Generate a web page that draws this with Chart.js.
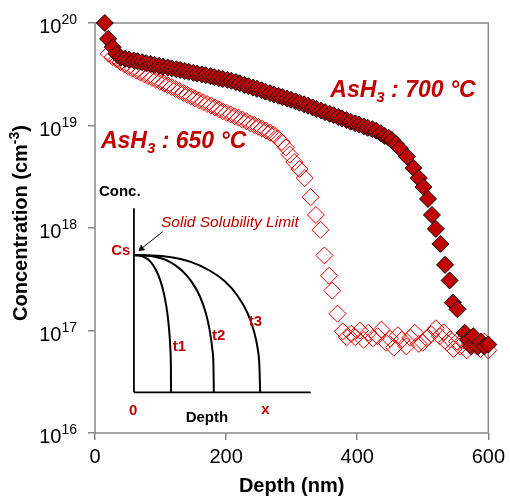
<!DOCTYPE html>
<html><head><meta charset="utf-8">
<script src="https://cdn.jsdelivr.net/npm/chart.js@4.4.1/dist/chart.umd.min.js"></script>
<style>html,body{margin:0;padding:0;background:#fff;}#wrap{width:510px;height:496px;}</style>
</head><body><div id="wrap"><canvas id="c" width="510" height="496"></canvas></div>
<script>
// ---- data (depth nm, concentration cm^-3) ----
const depth700 = [15,20,27,33,39,46,52,59,65,72,78,85,91,98,104,111,117,124,130,137,143,150,156,163,169,176,182,189,195,202,208,215,221,228,234,241,247,254,260,267,273,280,286,293,299,306,312,319,325,332,338,345,351,358,364,371,377,384,390,397,403,410,416,423,429,436,442,448,453,459,465,476,486,494,501,508,514,520,527,534,541,546,553,564,569,574,577,584,589,594,600];
const conc700 = [1.0e20,7.0e19,5.8e19,5.0e19,4.6e19,4.49e19,4.40e19,4.31e19,4.23e19,4.14e19,4.06e19,3.98e19,3.90e19,3.83e19,3.76e19,3.68e19,3.61e19,3.54e19,3.48e19,3.40e19,3.34e19,3.27e19,3.21e19,3.15e19,3.09e19,3.03e19,2.96e19,2.90e19,2.84e19,2.79e19,2.73e19,2.65e19,2.58e19,2.49e19,2.42e19,2.34e19,2.28e19,2.21e19,2.14e19,2.07e19,2.01e19,1.95e19,1.89e19,1.83e19,1.78e19,1.72e19,1.67e19,1.61e19,1.56e19,1.50e19,1.45e19,1.40e19,1.35e19,1.30e19,1.26e19,1.21e19,1.17e19,1.13e19,1.09e19,1.05e19,1.02e19,9.8e18,9.5e18,9.2e18,8.9e18,8.4e18,7.9e18,7.6e18,7.2e18,6.6e18,6.0e18,4.96e18,3.85e18,3.07e18,2.51e18,1.92e18,1.34e18,9.8e17,7.0e17,4.37e17,3.08e17,1.87e17,1.61e17,9.5e16,8.1e16,7.0e16,8.8e16,7.0e16,7.8e16,7.0e16,7.3e16];
const depth650 = [21,27,33,39,45,51,57,63,69,75,81,87,93,99,105,111,117,123,129,135,141,147,153,159,165,171,177,183,189,195,201,207,213,219,225,231,237,243,249,255,261,267,273,279,285,291,297,304,312,320,329,337,344,350,357,362,370,378,384,391,397,404,410,417,424,431,437,444,450,456,462,468,475,481,488,494,500,506,513,520,526,532,537,542,547,552,557,562,567,572,577,582,588,594,600];
const conc650 = [5.0e19,4.66e19,4.41e19,4.16e19,3.94e19,3.74e19,3.59e19,3.44e19,3.30e19,3.16e19,3.03e19,2.91e19,2.79e19,2.68e19,2.57e19,2.47e19,2.37e19,2.27e19,2.17e19,2.08e19,1.99e19,1.91e19,1.83e19,1.76e19,1.69e19,1.62e19,1.56e19,1.50e19,1.44e19,1.38e19,1.33e19,1.28e19,1.23e19,1.19e19,1.14e19,1.10e19,1.05e19,1.01e19,9.7e18,9.3e18,8.9e18,8.5e18,8.1e18,7.5e18,6.9e18,6.1e18,5.2e18,4.4e18,3.76e18,3.07e18,2.0e18,1.34e18,9.6e17,5.4e17,3.42e17,2.45e17,1.46e17,9.8e16,8.6e16,9.3e16,8.6e16,1.0e17,8.1e16,9.5e16,8.4e16,8.8e16,1.02e17,7.6e16,8.3e16,6.8e16,9.0e16,8.1e16,7.0e16,8.5e16,9.5e16,7.4e16,7.6e16,8.4e16,9.2e16,1.05e17,8.8e16,9.6e16,7.6e16,8.2e16,6.6e16,7.8e16,7.0e16,8.0e16,6.4e16,7.4e16,8.2e16,7.0e16,6.6e16,7.8e16,6.4e16];
const xTickValues = [0,200,400,600];
const yTickExponents = [16,17,18,19,20];
const label700Pos = [359, 1.88e19];
const label650Pos = [9, 6.0e18];

// ---- inset schematic (inset units: 0..100 on both axes) ----
const insetCurveV = [74.6,73.8,70.9,66.2,60.3,52.6,43.0,33.5,23.7,14.0,0];
const insetT1U = [0,5.25,9.45,12.6,15.1,17.2,18.9,19.95,20.6,20.9,21];
const insetT2U = [0,11.3,20.3,27.1,32.5,37.1,40.7,42.9,44.3,45.0,45.2];
const insetT3U = [0,17.9,32.1,42.8,51.4,58.5,64.3,67.8,70.0,71.0,71.4];
const insetAxisV = [[0,0],[0,100]];
const insetAxisH = [[0,0],[100,0]];
const insetArrow = [[16.3,87.3],[3.8,77.8]];
const insetArrowHead = [4.3,78.1];

const F = "'Liberation Sans', Arial, Helvetica, sans-serif";
const RED = '#c00000';
const GRAY = '#888888';
Chart.defaults.font.family = F;

const pts = (xs, ys) => xs.map((x,i)=>({x:x, y:ys[i]}));
const ptsPairs = arr => arr.map(p=>({x:p[0], y:p[1]}));

function lineDs(data, width, extra){
  return Object.assign({data, xAxisID:'xi', yAxisID:'yi', showLine:true, pointRadius:0, borderColor:'#000', borderWidth:width, backgroundColor:'#000', fill:false, order:3, clip:false}, extra||{});
}

function drawRuns(ctx, x, y, runs, align, color){
  ctx.fillStyle = color;
  ctx.textBaseline = 'alphabetic';
  ctx.textAlign = 'left';
  let w = 0;
  runs.forEach(r=>{ctx.font=r.font; r.w=ctx.measureText(r.t).width; w+=r.w;});
  let cx = align==='center' ? x-w/2 : (align==='right' ? x-w : x);
  runs.forEach(r=>{ctx.font=r.font; ctx.fillText(r.t, cx, y+(r.dy||0)); cx+=r.w;});
}

const framePlugin = {
  id:'frame',
  beforeDatasetsDraw(chart){
    const ctx=chart.ctx, ca=chart.chartArea;
    ctx.save(); ctx.strokeStyle=GRAY; ctx.lineWidth=1.5;
    ctx.strokeRect(ca.left, ca.top, ca.right-ca.left, ca.bottom-ca.top);
    ctx.restore();
  }
};

const textPlugin = {
  id:'texts',
  afterDraw(chart){
    const ctx=chart.ctx, ca=chart.chartArea;
    const xs=chart.scales.x, ys=chart.scales.y, xi=chart.scales.xi, yi=chart.scales.yi;
    ctx.save();
    // y tick labels 10^n
    yTickExponents.forEach(e=>{
      const py = ys.getPixelForValue(Math.pow(10,e));
      drawRuns(ctx, 77, py+10, [{t:'10', font:'20px '+F},{t:String(e), font:'14px '+F, dy:-9}], 'right', '#000');
    });
    // axis titles
    drawRuns(ctx, (ca.left+ca.right)/2, 491.5, [{t:'Depth (nm)', font:'bold 20px '+F}], 'center', '#000');
    ctx.save();
    ctx.translate(20, (ca.top+ca.bottom)/2 - 5);
    ctx.rotate(-Math.PI/2);
    drawRuns(ctx, 0, 7, [{t:'Concentration (cm', font:'bold 20px '+F},{t:'-3', font:'bold 14px '+F, dy:-8},{t:')', font:'bold 20px '+F}], 'center', '#000');
    ctx.restore();
    // series labels
    const bi = 'italic bold ';
    drawRuns(ctx, xs.getPixelForValue(label700Pos[0]), ys.getPixelForValue(label700Pos[1]),
      [{t:'AsH', font:bi+'23px '+F},{t:'3', font:bi+'15px '+F, dy:5},{t:' : 700 °C', font:bi+'23px '+F}], 'left', RED);
    drawRuns(ctx, xs.getPixelForValue(label650Pos[0]), ys.getPixelForValue(label650Pos[1]),
      [{t:'AsH', font:bi+'23px '+F},{t:'3', font:bi+'15px '+F, dy:5},{t:' : 650 °C', font:bi+'23px '+F}], 'left', RED);
    // inset texts
    const P = (u,v)=>[xi.getPixelForValue(u), yi.getPixelForValue(v)];
    const b15 = 'bold 15px '+F;
    let p;
    p=P(-8,106.7); drawRuns(ctx,p[0],p[1],[{t:'Conc.',font:b15}],'center','#000');
    p=P(54.3,89.7); drawRuns(ctx,p[0],p[1],[{t:'Solid Solubility Limit',font:'italic 15.5px '+F}],'center',RED);
    p=P(-2,74.6); drawRuns(ctx,p[0],p[1],[{t:'Cs',font:b15}],'right',RED);
    p=P(25.8,22.6); drawRuns(ctx,p[0],p[1],[{t:'t1',font:b15}],'center',RED);
    p=P(48.0,28.4); drawRuns(ctx,p[0],p[1],[{t:'t2',font:b15}],'center',RED);
    p=P(68.8,36.0); drawRuns(ctx,p[0],p[1],[{t:'t3',font:b15}],'center',RED);
    p=P(-0.45,-12.3); drawRuns(ctx,p[0],p[1],[{t:'0',font:b15}],'center',RED);
    p=P(74.4,-11.8); drawRuns(ctx,p[0],p[1],[{t:'x',font:b15}],'center',RED);
    p=P(41.3,-16.3); drawRuns(ctx,p[0],p[1],[{t:'Depth',font:b15}],'center','#000');
    ctx.restore();
  }
};

const gridOpts = {display:true, drawOnChartArea:false, drawTicks:true, tickLength:7, color:GRAY, lineWidth:1.5};

new Chart(document.getElementById('c'), {
  type:'scatter',
  data:{datasets:[
    {label:'AsH3 : 700 °C', data:pts(depth700,conc700), xAxisID:'x', yAxisID:'y', order:0,
      pointStyle:'rectRot', pointRadius:8.5, pointBackgroundColor:RED, pointBorderColor:'#000', pointBorderWidth:1, showLine:false, clip:false},
    {label:'AsH3 : 650 °C', data:pts(depth650,conc650), xAxisID:'x', yAxisID:'y', order:1,
      pointStyle:'rectRot', pointRadius:8.5, pointBackgroundColor:'rgba(255,255,255,0)', pointBorderColor:'#dd0000', pointBorderWidth:1, showLine:false, clip:false},
    lineDs(ptsPairs(insetAxisV), 1.75),
    lineDs(ptsPairs(insetAxisH), 1.75),
    lineDs(pts(insetT1U, insetCurveV), 2, {cubicInterpolationMode:'monotone'}),
    lineDs(pts(insetT2U, insetCurveV), 2, {cubicInterpolationMode:'monotone'}),
    lineDs(pts(insetT3U, insetCurveV), 2, {cubicInterpolationMode:'monotone'}),
    lineDs(ptsPairs(insetArrow), 1),
    {data:[{x:insetArrowHead[0], y:insetArrowHead[1]}], xAxisID:'xi', yAxisID:'yi', showLine:false, order:3, clip:false,
      pointStyle:'triangle', rotation:232, pointRadius:3.5, pointBackgroundColor:'#000', pointBorderColor:'#000', pointBorderWidth:0.5}
  ]},
  options:{
    responsive:false, animation:false, devicePixelRatio:1, events:[],
    layout:{padding:{top:23, right:18, left:0, bottom:0}},
    plugins:{legend:{display:false}, tooltip:{enabled:false}},
    scales:{
      x:{type:'linear', position:'bottom', min:0, max:600,
        afterBuildTicks:s=>{s.ticks = xTickValues.map(v=>({value:v}));},
        ticks:{font:{size:20, family:F}, color:'#000', padding:5, maxRotation:0, autoSkip:false},
        grid:gridOpts, border:{display:false}, afterFit:s=>{s.height=63;}},
      y:{type:'logarithmic', position:'left', min:1e16, max:1e20,
        afterBuildTicks:s=>{s.ticks = yTickExponents.map(e=>({value:Math.pow(10,e)}));},
        ticks:{display:false}, grid:gridOpts, border:{display:false}, afterFit:s=>{s.width=95;}},
      xi:{type:'linear', display:false, min:-22.03, max:200.5},
      yi:{type:'linear', display:false, position:'left', min:-22.12, max:200.71}
    }
  },
  plugins:[framePlugin, textPlugin]
});
</script>
</body></html>
